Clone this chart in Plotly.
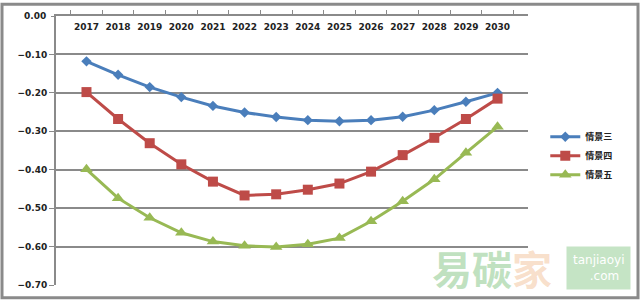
import plotly.graph_objects as go

years = [str(y) for y in range(2017, 2031)]
s3 = [-0.118, -0.153, -0.185, -0.211, -0.234, -0.251, -0.263, -0.271, -0.274, -0.271, -0.262, -0.245, -0.223, -0.200]
s4 = [-0.198, -0.268, -0.331, -0.386, -0.431, -0.467, -0.464, -0.452, -0.436, -0.405, -0.362, -0.317, -0.268, -0.215]
s5 = [-0.399, -0.474, -0.525, -0.564, -0.587, -0.598, -0.601, -0.594, -0.578, -0.534, -0.482, -0.425, -0.356, -0.288]
names = ["情景三", "情景四", "情景五"]
y_ticks = [0, -0.1, -0.2, -0.3, -0.4, -0.5, -0.6, -0.7]

fig = go.Figure()
fig.add_trace(go.Scatter(x=years, y=s3, name=names[0], mode="lines+markers",
                         line=dict(color="#4a7ebb", width=3),
                         marker=dict(symbol="diamond", size=8, color="#4a7ebb")))
fig.add_trace(go.Scatter(x=years, y=s4, name=names[1], mode="lines+markers",
                         line=dict(color="#be4b48", width=3),
                         marker=dict(symbol="square", size=10, color="#be4b48")))
fig.add_trace(go.Scatter(x=years, y=s5, name=names[2], mode="lines+markers",
                         line=dict(color="#98b954", width=3),
                         marker=dict(symbol="triangle-up", size=11, color="#98b954")))

tickfont = dict(family="DejaVu Sans", size=9, color="#222222", weight="bold")
fig.update_layout(
    width=640, height=302,
    margin=dict(l=56, r=112, t=14, b=15),
    paper_bgcolor="white", plot_bgcolor="white",
    showlegend=True,
    legend=dict(xref="container", yref="container", x=0.852, y=0.595,
                xanchor="left", yanchor="top",
                font=dict(family="Noto Sans CJK SC", size=9, color="#222222", weight="bold"),
                tracegroupgap=4, itemwidth=30, bgcolor="rgba(0,0,0,0)"),
    xaxis=dict(type="category", side="top", showline=True, linecolor="#8a8a8a", linewidth=2,
               ticks="outside", tickson="boundaries", ticklen=4, tickcolor="#8a8a8a",
               ticklabelposition="inside", ticklabelstandoff=7, showgrid=False, tickfont=tickfont,
               tickangle=0, zeroline=False),
    yaxis=dict(range=[-0.7, 0], tickvals=y_ticks[1:], tickformat=".2f", showline=True,
               linecolor="#8a8a8a", linewidth=2, showgrid=True, gridcolor="#8a8a8a",
               gridwidth=2, zeroline=False, tickfont=tickfont, ticks="outside",
               ticklen=5, tickcolor="#8a8a8a"),
    shapes=[dict(type="rect", xref="paper", yref="paper",
                 x0=(2 - 56) / 472, x1=(638 - 56) / 472,
                 y0=(287 - 300) / 273, y1=(287 - 2) / 273,
                 line=dict(color="#8a8a8a", width=3), fillcolor="rgba(0,0,0,0)", layer="below"),
            dict(type="line", xref="paper", yref="y", x0=-5 / 472, x1=0, y0=y_ticks[0], y1=y_ticks[0],
                 line=dict(color="#8a8a8a", width=2))],
    annotations=[
        dict(xref="paper", yref="y", x=-8 / 472, y=y_ticks[0], text=f"{y_ticks[0]:.2f}",
             showarrow=False, xanchor="right", yanchor="middle", font=tickfont),
        dict(xref="paper", yref="paper", x=(492 - 56) / 472, y=(287 - 270) / 273,
             text="<b>易碳<span style='color:rgba(240,180,130,0.7)'>家</span></b>",
             showarrow=False, xanchor="center", yanchor="middle",
             font=dict(family="Noto Sans CJK SC", size=40, color="rgba(150,205,150,0.6)")),
        dict(xref="paper", yref="paper", x=(598 - 56) / 472, y=(287 - 270) / 273,
             text="tanjiaoyi<br>   .com", showarrow=False, xanchor="center", yanchor="middle",
             bgcolor="rgba(150,205,150,0.55)", borderpad=6,
             font=dict(family="DejaVu Sans", size=12, color="white")),
    ],
)

fig.write_html("out.html")
